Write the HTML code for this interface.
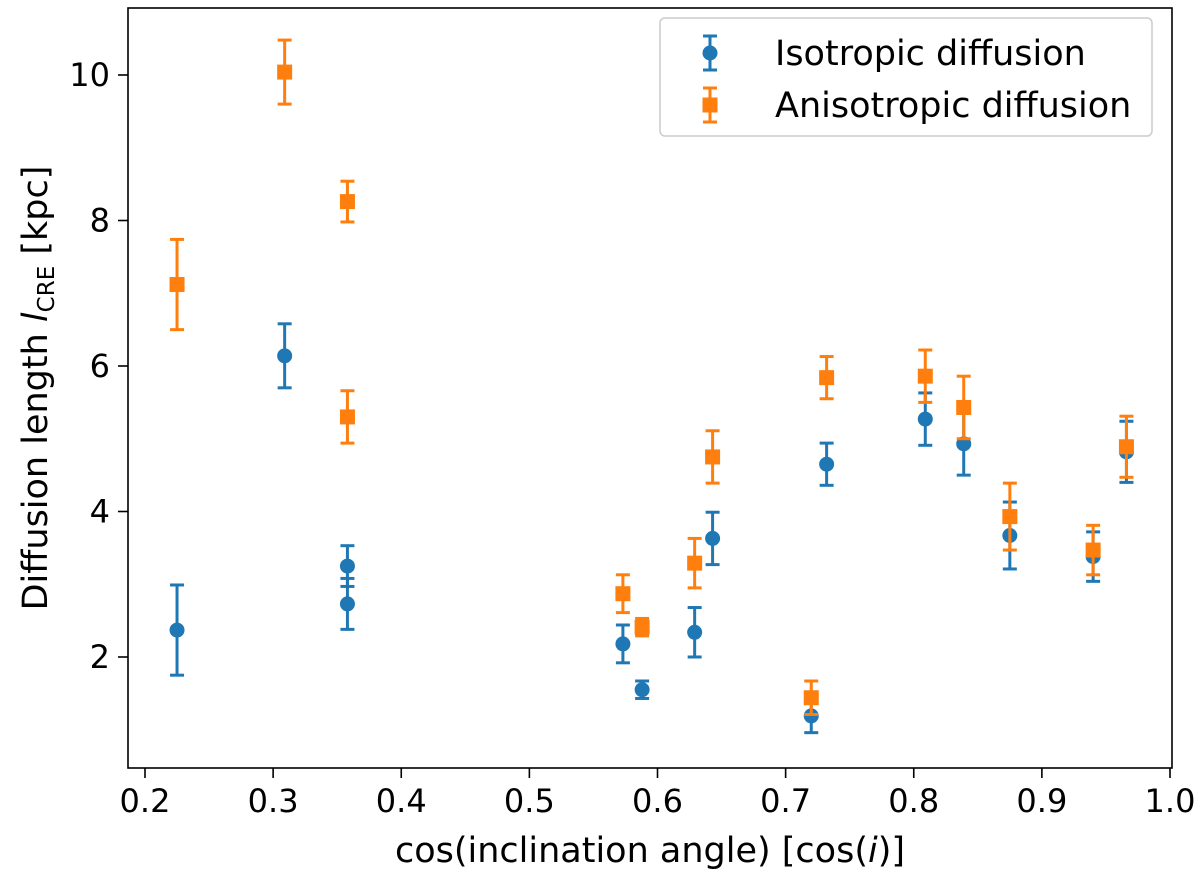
<!DOCTYPE html>
<html><head><meta charset="utf-8"><style>
body{margin:0;background:#fff}
svg text{font-family:"DejaVu Sans","Liberation Sans",sans-serif;fill:#000}
</style></head><body>
<svg id="chart" width="1200" height="879" xmlns="http://www.w3.org/2000/svg">
<g id="marks"></g>
<rect x="128" y="8" width="1044" height="760" fill="none" stroke="#000" stroke-width="1.6"/>
<g id="axes"></g>
<text x="650" y="862" font-size="35" text-anchor="middle">cos(inclination angle) [cos(<tspan font-style="italic">i</tspan>)]</text>
<text transform="translate(47,388) rotate(-90)" font-size="35" text-anchor="middle">Diffusion length <tspan font-style="italic">l</tspan><tspan font-size="23" dy="7">CRE</tspan><tspan dy="-7"> [kpc]</tspan></text>
<g>
<rect x="660" y="18" width="492" height="118" rx="5" fill="#fff" stroke="#ccc" stroke-width="1.5"/>
<g>
<line x1="710" y1="36" x2="710" y2="70" stroke="#1f77b4" stroke-width="3"/><line x1="703" y1="36" x2="717" y2="36" stroke="#1f77b4" stroke-width="3"/><line x1="703" y1="70" x2="717" y2="70" stroke="#1f77b4" stroke-width="3"/>
<circle cx="710" cy="53" r="7.5" fill="#1f77b4"/>
<text x="775" y="65" font-size="35">Isotropic diffusion</text></g>
<g>
<line x1="710" y1="88" x2="710" y2="122" stroke="#ff7f0e" stroke-width="3"/><line x1="703" y1="88" x2="717" y2="88" stroke="#ff7f0e" stroke-width="3"/><line x1="703" y1="122" x2="717" y2="122" stroke="#ff7f0e" stroke-width="3"/>
<rect x="702.5" y="97.5" width="15" height="15" fill="#ff7f0e"/>
<text x="775" y="117" font-size="35">Anisotropic diffusion</text></g>
</g>
</svg>
<script>
const xs=[0.225,0.309,0.358,0.358,0.573,0.588,0.629,0.643,0.720,0.732,0.809,0.839,0.875,0.940,0.966];
const isoY=[2.37,6.14,3.25,2.73,2.18,1.55,2.34,3.63,1.19,4.65,5.27,4.93,3.67,3.38,4.82];
const isoErr=[0.62,0.44,0.28,0.35,0.26,0.12,0.34,0.36,0.23,0.29,0.36,0.43,0.46,0.34,0.42];
const anisoY=[7.12,10.04,8.26,5.30,2.87,2.41,3.29,4.75,1.44,5.84,5.86,5.43,3.93,3.47,4.89];
const anisoErr=[0.62,0.44,0.28,0.36,0.26,0.12,0.34,0.36,0.23,0.29,0.36,0.43,0.46,0.34,0.42];
const xTicks=[0.2,0.3,0.4,0.5,0.6,0.7,0.8,0.9,1.0];
const yTicks=[2,4,6,8,10];
const X=v=>145+(v-0.2)*1281.25;
const Y=v=>657-(v-2)*72.75;
const NS="http://www.w3.org/2000/svg";
function mk(t,a,p){const e=document.createElementNS(NS,t);for(const k in a)e.setAttribute(k,a[k]);p.appendChild(e);return e;}
const axes=document.getElementById('axes');
xTicks.forEach(t=>{const g=mk('g',{},axes);


mk('line',{x1:X(t),x2:X(t),y1:768,y2:778,stroke:'#000','stroke-width':1.6},g);
const tx=mk('text',{x:X(t),y:812,'font-size':32,'text-anchor':'middle'},g);tx.textContent=t.toFixed(1);});
yTicks.forEach(t=>{const g=mk('g',{},axes);


mk('line',{x1:118,x2:128,y1:Y(t),y2:Y(t),stroke:'#000','stroke-width':1.6},g);
const tx=mk('text',{x:110,y:Y(t)+11,'font-size':32,'text-anchor':'end'},g);tx.textContent=t;});
const marks=document.getElementById('marks');
function series(ys,es,col,sq,name){
xs.forEach((x,i)=>{const g=mk('g',{},marks);


const cx=X(x),t=Y(ys[i]+es[i]),b=Y(ys[i]-es[i]);
mk('line',{x1:cx,x2:cx,y1:t,y2:b,stroke:col,'stroke-width':3},g);
mk('line',{x1:cx-7,x2:cx+7,y1:t,y2:t,stroke:col,'stroke-width':3},g);
mk('line',{x1:cx-7,x2:cx+7,y1:b,y2:b,stroke:col,'stroke-width':3},g);
if(sq)mk('rect',{x:cx-7.5,y:Y(ys[i])-7.5,width:15,height:15,fill:col},g);
else mk('circle',{cx:cx,cy:Y(ys[i]),r:7.5,fill:col},g);});}
series(isoY,isoErr,'#1f77b4',false,'isotropic');
series(anisoY,anisoErr,'#ff7f0e',true,'anisotropic');
</script>
</body></html>
